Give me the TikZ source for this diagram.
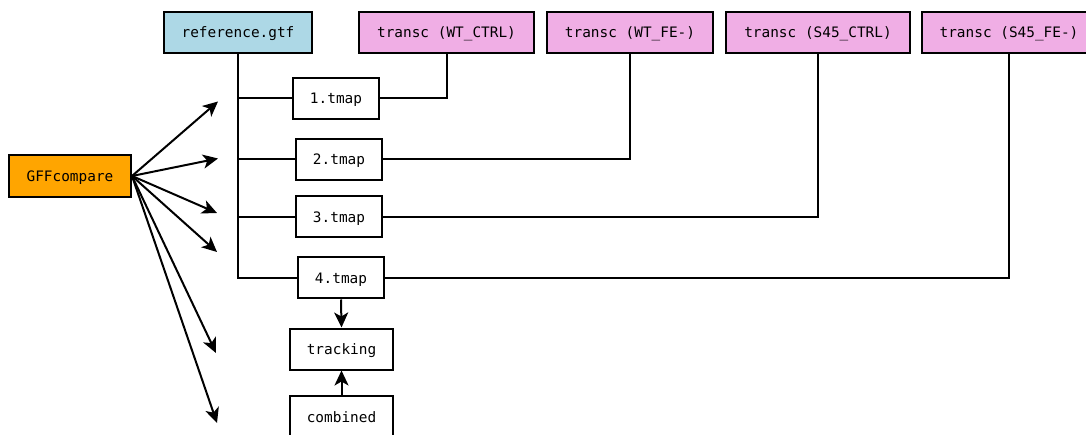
\documentclass[tikz,border=0pt]{standalone}
\usepackage{fontspec}
\setmonofont{DejaVu Sans Mono}
\usetikzlibrary{arrows.meta}
\definecolor{gtfblue}{HTML}{ADD8E6}
\definecolor{transpink}{HTML}{F0AEE5}
\definecolor{toolorange}{HTML}{FFA500}
\tikzset{
  box/.style={draw=black, line width=2pt, inner sep=0pt, minimum height=41pt,
              font=\ttfamily\fontsize{14.4}{17}\selectfont, text=black,
              text height=11pt, text depth=0pt},
  wire/.style={line width=2pt, draw=black},
  arr/.style={wire, -{Stealth[length=15pt,width=14pt,inset=4pt]}},
}
\begin{document}
\begin{tikzpicture}[x=1pt, y=-1pt]
\useasboundingbox (0,0) rectangle (1086,435);

% inputs
\node[box, fill=gtfblue, minimum width=148pt] (ref) at (238,32.5) {reference.gtf};
\node[box, fill=transpink, minimum width=175pt] (wc) at (446.5,32.5) {transc (WT\_CTRL)};
\node[box, fill=transpink, minimum width=166pt] (wf) at (630,32.5) {transc (WT\_FE-)};
\node[box, fill=transpink, minimum width=184pt] (sc) at (818,32.5) {transc (S45\_CTRL)};
\node[box, fill=transpink, minimum width=174pt] (sf) at (1009,32.5) {transc (S45\_FE-)};

% tool
\node[box, fill=toolorange, minimum width=122pt, minimum height=42pt] (gff) at (70,176) {GFFcompare};

% outputs
\node[box, fill=white, minimum width=86pt] (t1) at (336,98.5) {1.tmap};
\node[box, fill=white, minimum width=86pt] (t2) at (339,159.5) {2.tmap};
\node[box, fill=white, minimum width=86pt] (t3) at (339,217) {3.tmap};
\node[box, fill=white, minimum width=86pt] (t4) at (341,278) {4.tmap};
\node[box, fill=white, minimum width=103pt] (trk) at (341.5,349) {tracking};
\node[box, fill=white, minimum width=103pt] (cmb) at (341.5,416.5) {combined};

% reference trunk
\draw[wire] (ref.south) |- (t1.west);
\draw[wire] (ref.south) |- (t2.west);
\draw[wire] (ref.south) |- (t3.west);
\draw[wire] (ref.south) |- (t4.west);

% sample links
\draw[wire] (wc.south) |- (t1.east);
\draw[wire] (wf.south) |- (t2.east);
\draw[wire] (sc.south) |- (t3.east);
\draw[wire] (sf.south) |- (t4.east);

% tracking
\draw[arr] (t4.south) -- (trk.north);
\draw[arr] (cmb.north) -- (trk.south);

% GFFcompare outputs
\coordinate (e1) at (218,101.5);
\coordinate (e2) at (218,158.5);
\coordinate (e3) at (217,213);
\coordinate (e4) at (217,252);
\coordinate (e5) at (216,353);
\coordinate (e6) at (217,423);
\foreach \e in {e1,e2,e3,e4,e5,e6}
  \draw[arr] (gff.east) -- (\e);
\end{tikzpicture}
\end{document}
